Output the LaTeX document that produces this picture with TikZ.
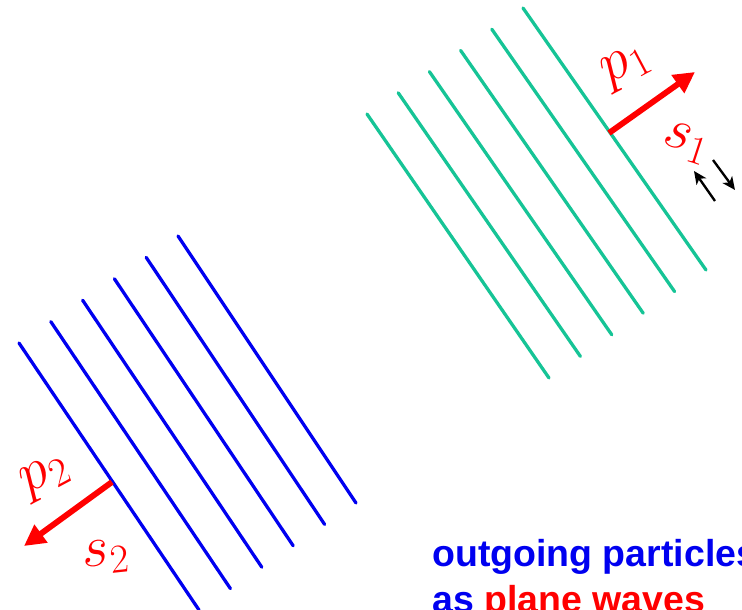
\documentclass[tikz,border=0pt]{standalone}
\usepackage{fontspec}
\setsansfont{Liberation Sans}
\usetikzlibrary{arrows.meta,calc}
\definecolor{waveGreen}{RGB}{22,196,150}
\definecolor{waveBlue}{RGB}{0,0,240}
\definecolor{momRed}{RGB}{255,0,0}
\newcommand{\biglabel}[1]{\scalebox{2}{$#1$}}
\tikzset{
  front/.style={line width=2.8pt, line cap=round},
  momentum/.style={-{Triangle[length=18pt,width=18pt]}, line width=5pt, draw=momRed},
  spinflip/.style={-{Stealth[length=11pt,width=10pt,inset=3pt]}, line width=2pt, draw=black},
  veclabel/.style={text=momRed, font=\fontsize{24}{26}\selectfont, inner sep=0pt},
  caption/.style={anchor=base west, inner sep=0pt, font=\sffamily\bfseries\fontsize{32}{40}\selectfont}
}

\begin{document}
\begin{tikzpicture}[x=0.03cm,y=-0.03cm]
    \useasboundingbox (0,0) rectangle (742,610);
    \clip (0,0) rectangle (742,610);
    \foreach \i in {0,...,5}
      \draw[front, waveGreen] ($(367,114)+\i*(31.2,-21.2)$) -- ($(549,378)+\i*(31.4,-21.6)$);
    \foreach \i in {0,...,5}
      \draw[front, waveBlue] ($(19,343)+\i*(31.8,-21.4)$) -- ($(199,610)+\i*(31.4,-21.4)$);
    \coordinate (tail1) at (609,133);
    \coordinate (tip1) at (695,72);
    \coordinate (tail2) at (112,482);
    \coordinate (tip2) at (24,546);
    \draw[momentum] (tail1) -- (tip1);
    \draw[momentum] (tail2) -- (tip2);
    \node[veclabel, rotate=28] (p1) at (627,67) {\biglabel{p_1}};
    \node[veclabel, rotate=-18] (s1) at (686,143) {\biglabel{s_1}};
    \node[veclabel, rotate=28] (p2) at (46,477) {\biglabel{p_2}};
    \node[veclabel, rotate=6] (s2) at (106,557) {\biglabel{s_2}};
    \coordinate (up0) at (715,201);
    \coordinate (up1) at (694,171);
    \coordinate (dn0) at (713,160);
    \coordinate (dn1) at (735,190);
    \draw[spinflip] (up0) -- (up1);
    \draw[spinflip] (dn0) -- (dn1);
    \node[caption, text=waveBlue] (line1) at (432,566) {outgoing particles};
    \node[caption, text=waveBlue] (line2) at (432,612) {as \textcolor{momRed}{plane waves}};
  \end{tikzpicture}
\end{document}
